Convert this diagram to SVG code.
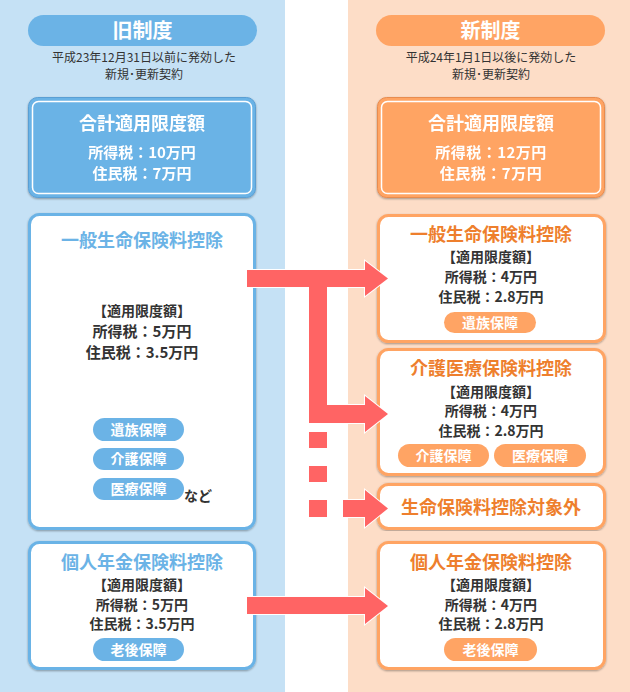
<svg xmlns="http://www.w3.org/2000/svg" width="630" height="692" viewBox="0 0 630 692">
<defs>
<filter id="sh" x="-5%" y="-5%" width="110%" height="110%">
<feGaussianBlur in="SourceAlpha" stdDeviation="1.2"/>
<feOffset dx="0" dy="0.5" result="b"/>
<feComponentTransfer><feFuncA type="linear" slope="0.35"/></feComponentTransfer>
<feMerge><feMergeNode/><feMergeNode in="SourceGraphic"/></feMerge>
</filter>
</defs>
<style>
text{font-family:"Noto Sans CJK JP","Noto Sans CJK SC",sans-serif;font-weight:700;text-anchor:middle}
.hd{font-size:20px;fill:#fff}
.sub{font-size:12px;fill:#333;font-weight:400}
.st{font-size:18px;fill:#fff}
.sv{font-size:15px;fill:#fff}
.bt{font-size:18px;fill:#6BB3E6}
.ot{font-size:18px;fill:#EE7F2D}
.b15{font-size:15px;fill:#333}
.b14{font-size:14px;fill:#333}
.pt{font-size:14px;fill:#fff}
.bbox{fill:#fff;stroke:#6BB3E6;stroke-width:3}
.obox{fill:#fff;stroke:#FFA464;stroke-width:3}
.bp{fill:#6BB3E6}
.op{fill:#FFA464}
.arr{fill:#FF6464;stroke:#fff;stroke-width:2;paint-order:stroke;stroke-linejoin:miter}
</style>
<rect x="0" y="0" width="285" height="692" fill="#C5E1F5"/>
<rect x="285" y="0" width="63" height="692" fill="#fff"/>
<rect x="348" y="0" width="282" height="692" fill="#FDDDC7"/>

<g id="old-header">
<rect x="28" y="15" width="229" height="31" rx="15.5" class="bp"/>
<text x="142.5" y="38" class="hd">旧制度</text>
<text x="144" y="62" class="sub">平成23年12月31日以前に発効した</text>
<text x="144" y="79" class="sub">新規･更新契約</text>
</g>
<g id="new-header">
<rect x="376" y="15" width="229" height="31" rx="15.5" class="op"/>
<text x="490.5" y="38" class="hd">新制度</text>
<text x="491" y="62" class="sub">平成24年1月1日以後に発効した</text>
<text x="491" y="79" class="sub">新規･更新契約</text>
</g>

<g id="old-total" filter="url(#sh)">
<rect x="28.5" y="97.5" width="227" height="100" rx="9" fill="#6BB3E6" stroke="#5A9FD4" stroke-width="1"/>
<rect x="32.5" y="101.5" width="219" height="92" rx="6" fill="none" stroke="#fff" stroke-width="1.5"/>
<text x="142" y="129.5" class="st">合計適用限度額</text>
<text x="142" y="157.5" class="sv">所得税：10万円</text>
<text x="142" y="178.5" class="sv">住民税：7万円</text>
</g>
<g id="new-total" filter="url(#sh)">
<rect x="377.5" y="97.5" width="227" height="100" rx="9" fill="#FFA464" stroke="#E88C50" stroke-width="1"/>
<rect x="381.5" y="101.5" width="219" height="92" rx="6" fill="none" stroke="#fff" stroke-width="1.5"/>
<text x="491" y="129.5" class="st">合計適用限度額</text>
<text x="491" y="157.5" class="sv" letter-spacing="0.5">所得税：12万円</text>
<text x="491" y="178.5" class="sv" letter-spacing="0.5">住民税：7万円</text>
</g>

<g id="old-general">
<rect x="29.5" y="214.5" width="225" height="314" rx="10" class="bbox" filter="url(#sh)"/>
<text x="142" y="246.5" class="bt">一般生命保険料控除</text>
<text x="142" y="315.5" class="b14" font-size="15">【適用限度額】</text>
<text x="142" y="336.5" class="b15">所得税：5万円</text>
<text x="142" y="357.5" class="b15">住民税：3.5万円</text>
<rect x="93" y="418" width="91" height="23" rx="11.5" class="bp"/>
<text x="138.5" y="434.5" class="pt">遺族保障</text>
<rect x="93" y="448" width="91" height="22" rx="11" class="bp"/>
<text x="138.5" y="464" class="pt">介護保障</text>
<rect x="93" y="478" width="91" height="22" rx="11" class="bp"/>
<text x="138.5" y="494" class="pt">医療保障</text>
<text x="198" y="501" class="b14" font-size="11.5">など</text>
</g>

<g id="old-pension">
<rect x="29.5" y="542.5" width="225" height="126" rx="10" class="bbox" filter="url(#sh)"/>
<text x="142" y="568.5" class="bt">個人年金保険料控除</text>
<text x="142" y="590" class="b14">【適用限度額】</text>
<text x="142" y="610" class="b14">所得税：5万円</text>
<text x="142" y="629" class="b14">住民税：3.5万円</text>
<rect x="93" y="638" width="91" height="23" rx="11.5" class="bp"/>
<text x="138.5" y="654.5" class="pt">老後保障</text>
</g>

<g id="new-general">
<rect x="378.5" y="215.5" width="226" height="126" rx="10" class="obox" filter="url(#sh)"/>
<text x="491" y="240.5" class="ot">一般生命保険料控除</text>
<text x="491" y="262" class="b14">【適用限度額】</text>
<text x="491" y="282" class="b14">所得税：4万円</text>
<text x="491" y="302" class="b14">住民税：2.8万円</text>
<rect x="444" y="312" width="92" height="21" rx="10.5" class="op"/>
<text x="490" y="327.5" class="pt">遺族保障</text>
</g>

<g id="new-care">
<rect x="378.5" y="349.5" width="226" height="125" rx="10" class="obox" filter="url(#sh)"/>
<text x="491" y="374.5" class="ot">介護医療保険料控除</text>
<text x="491" y="397" class="b14">【適用限度額】</text>
<text x="491" y="416" class="b14">所得税：4万円</text>
<text x="491" y="436" class="b14">住民税：2.8万円</text>
<rect x="398" y="444" width="91" height="23" rx="11.5" class="op"/>
<text x="443.5" y="460.5" class="pt">介護保障</text>
<rect x="494" y="444" width="92" height="23" rx="11.5" class="op"/>
<text x="540" y="460.5" class="pt">医療保障</text>
</g>

<g id="new-excluded">
<rect x="378.5" y="484.5" width="226" height="44" rx="10" class="obox" filter="url(#sh)"/>
<text x="491" y="513.5" class="ot">生命保険料控除対象外</text>
</g>

<g id="new-pension">
<rect x="378.5" y="542.5" width="226" height="126" rx="10" class="obox" filter="url(#sh)"/>
<text x="491" y="568.5" class="ot">個人年金保険料控除</text>
<text x="491" y="590" class="b14">【適用限度額】</text>
<text x="491" y="610" class="b14">所得税：4万円</text>
<text x="491" y="629" class="b14">住民税：2.8万円</text>
<rect x="444" y="638" width="93" height="23" rx="11.5" class="op"/>
<text x="490.5" y="654.5" class="pt">老後保障</text>
</g>

<g id="connectors">
<path class="arr" d="M247,270 H365 V261 L388,278.5 L365,296 V287 H327 V405 H365 V396 L388,414 L365,432 V423 H309 V287 H247 Z"/>
<rect class="arr" x="309" y="432" width="18" height="16" stroke="none"/>
<rect class="arr" x="309" y="466" width="18" height="16" stroke="none"/>
<rect class="arr" x="309" y="500" width="18" height="17" stroke="none"/>
<path class="arr" d="M343,500 H365 V490 L388,508.5 L365,527 V517 H343 Z"/>
<path class="arr" d="M247,597 H365 V588 L388,606 L365,624 V614 H247 Z"/>
</g>
</svg>
